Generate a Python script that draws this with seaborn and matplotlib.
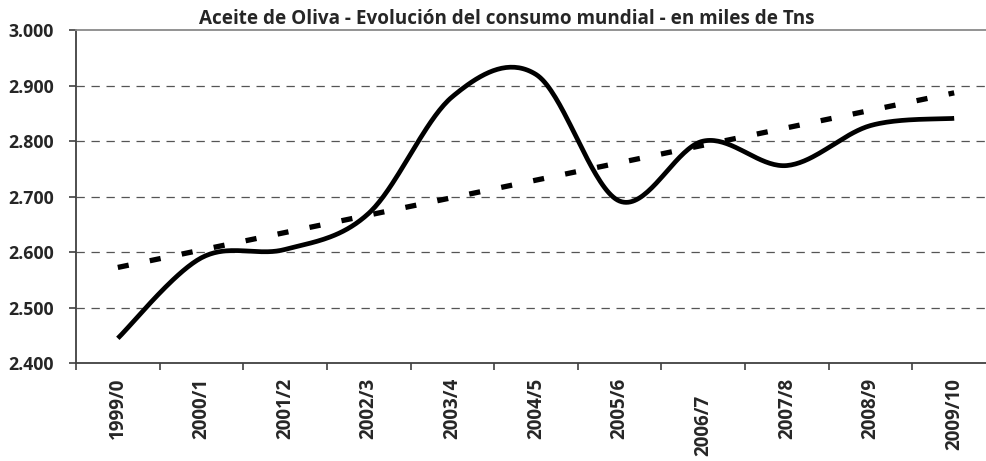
import numpy as np
import pandas as pd
import matplotlib
matplotlib.use("Agg")
import matplotlib.pyplot as plt
import matplotlib.ticker as mticker
from matplotlib.transforms import ScaledTranslation
import seaborn as sns

# ---- data (miles de toneladas) ----
campanas = ["1999/0", "2000/1", "2001/2", "2002/3", "2003/4", "2004/5",
            "2005/6", "2006/7", "2007/8", "2008/9", "2009/10"]
consumo = [2445, 2590, 2605, 2670, 2880, 2920, 2692, 2800, 2756, 2828, 2841]
y_ticks = [2400, 2500, 2600, 2700, 2800, 2900, 3000]
titulo = "Aceite de Oliva - Evolución del consumo mundial - en miles de Tns"

sns.set_theme(style="white")
plt.rcParams["font.family"] = ["Open Sans", "DejaVu Sans"]
plt.rcParams["font.weight"] = "bold"
plt.rcParams["lines.scale_dashes"] = False

fig = plt.figure(figsize=(9.87, 4.61), dpi=100)
W, H = 987, 461
ax = fig.add_axes([76 / W, 1 - 363.3 / H, (996 - 76) / W, 333.3 / H])

idx = np.arange(len(campanas), dtype=float)
vals = np.array(consumo, dtype=float)

# Excel-style smoothed line (Catmull-Rom Bezier through the data points)
def smooth(x, y, n=40):
    px = np.concatenate([[x[0]], x, [x[-1]]])
    py = np.concatenate([[y[0]], y, [y[-1]]])
    xs, ys = [], []
    t = np.linspace(0, 1, n)
    for i in range(1, len(px) - 2):
        p0x, p0y = px[i], py[i]
        p3x, p3y = px[i + 1], py[i + 1]
        c1x = p0x + (px[i + 1] - px[i - 1]) / 6
        c1y = p0y + (py[i + 1] - py[i - 1]) / 6
        c2x = p3x - (px[i + 2] - px[i]) / 6
        c2y = p3y - (py[i + 2] - py[i]) / 6
        b0 = (1 - t) ** 3
        b1 = 3 * (1 - t) ** 2 * t
        b2 = 3 * (1 - t) * t ** 2
        b3 = t ** 3
        xs.append(b0 * p0x + b1 * c1x + b2 * c2x + b3 * p3x)
        ys.append(b0 * p0y + b1 * c1y + b2 * c2y + b3 * p3y)
    return np.concatenate(xs), np.concatenate(ys)

sx, sy = smooth(idx, vals)
df_s = pd.DataFrame({"x": sx, "y": sy})
sns.lineplot(data=df_s, x="x", y="y", sort=False, estimator=None, ax=ax,
             color="black", linewidth=3.4, solid_capstyle="butt", zorder=4)

# linear trend line
sns.regplot(x=idx, y=vals, scatter=False, ci=None, truncate=True, ax=ax,
            line_kws=dict(color="black", linewidth=3.8,
                          linestyle=(0, (8.0, 15.5)), dash_capstyle="butt",
                          zorder=3))

ax.set_xlim(-0.5, len(campanas) - 0.5)
ax.set_ylim(2400, 3000)
ax.set_yticks(y_ticks)
ax.set_yticklabels([f"{v:,.0f}".replace(",", ".") for v in y_ticks],
                   fontweight="bold", fontsize=12.8)

ax.set_xticks(idx)
ax.set_xticklabels(campanas, rotation=90, fontweight="bold", fontsize=13.5)
ax.set_xticks(np.arange(-0.5, len(campanas), 1.0), minor=True)
ax.tick_params(axis="x", which="major", length=0, pad=10.5)
ax.tick_params(axis="x", which="minor", length=5, width=1.2, color="#404040",
               direction="out", bottom=True)
ax.tick_params(axis="y", length=5, width=1.2, color="#404040", direction="out",
               left=True, pad=11)
for lab in ax.get_xticklabels():
    if lab.get_text() == "2006/7":
        lab.set_transform(lab.get_transform() +
                          ScaledTranslation(0, -17 / 100, fig.dpi_scale_trans))

ax.set_xlabel("")
ax.set_ylabel("")
for yv in y_ticks[1:-1]:
    ax.axhline(yv, color="#555555", linewidth=0.9, linestyle=(0, (6.0, 4.8)),
               zorder=1)

for s in ["left", "bottom"]:
    ax.spines[s].set_color("#404040")
    ax.spines[s].set_linewidth(1.3)
ax.spines["top"].set_color("#8a8a8a")
ax.spines["top"].set_linewidth(1.3)
ax.spines["right"].set_visible(False)

fig.text(506.5 / W, 1 - 24 / H, titulo, ha="center", va="baseline",
         fontweight="bold", fontsize=13.6)

fig.savefig("out.png", dpi=100)
